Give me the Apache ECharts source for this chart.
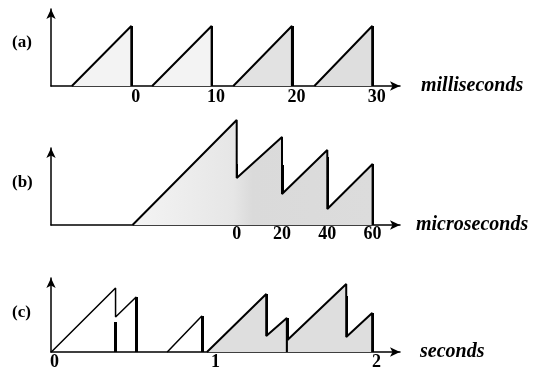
<!DOCTYPE html>
<html>
<head>
<meta charset="utf-8">
<script src="https://cdn.jsdelivr.net/npm/echarts@6/dist/echarts.min.js"></script>
<style>html,body{margin:0;padding:0;background:#fff}#c{width:533px;height:373px}</style>
</head>
<body>
<div id="c"></div>
<script>
// ---- Panel (a): milliseconds ----
const msTicks = [0, 10, 20, 30];
const msRampStarts = [-7.4, 2.6, 12.7, 22.8];
const msPeakTimes = [0, 10, 20, 30];
const msPeakHeights = [60, 60, 60, 60];
const msFills = ['#f3f3f3', '#f3f3f3', '#e2e2e2', '#dedede'];

// ---- Panel (b): microseconds ----
const usTicks = [0, 20, 40, 60];
const usRampStart = -46;
const usPeakTimes = [0, 20, 40, 60];
const usPeakHeights = [105, 88, 75, 61];
const usResetHeights = [47, 31, 16, 0];
const usBarTops = [61, 60, 68, 61];

// ---- Panel (c): seconds ----
const sTicks = [0, 1, 2];
const sTrain1 = [[-0.02, 0], [0.379, 64], [0.379, 35], [0.507, 55], [0.507, 0]];
const sTrain2 = [[0.70, 0], [0.915, 36], [0.915, 0]];
const sTrain3 = [[0.947, 0], [1.315, 58], [1.315, 16], [1.443, 34], [1.443, 0]];
const sTrain4 = [[1.447, 12], [1.812, 68], [1.812, 15], [1.973, 39], [1.973, 0]];
const sBars = [[0.379, 30], [0.507, 55], [0.915, 36], [1.315, 58], [1.443, 34], [1.812, 56], [1.973, 39]];

const chart = echarts.init(document.getElementById('c'), null, {renderer: 'canvas'});

const serif = 'Liberation Serif';
const axisLineBase = {
  show: true,
  onZero: false,
  lineStyle: {color: '#000', width: 1.5},
  symbol: ['none', 'arrow'],
  symbolSize: [7, 10]
};

function xAx(grid, min, max, ticks, name, margin, pad, gap) {
  return {
    type: 'value', gridIndex: grid, min: min, max: max,
    axisLine: axisLineBase,
    axisTick: {show: false},
    splitLine: {show: false},
    axisLabel: {
      customValues: ticks, margin: margin,
      fontFamily: serif, fontWeight: 'bold', fontSize: 18, color: '#000',
      padding: pad
    },
    name: name, nameLocation: 'end', nameGap: gap,
    nameTextStyle: {
      fontFamily: serif, fontStyle: 'italic', fontWeight: 'bold', fontSize: 20, color: '#000',
      verticalAlign: 'middle', align: 'left'
    }
  };
}
function yAx(grid, max) {
  return {
    type: 'value', gridIndex: grid, min: 0, max: max,
    axisLine: axisLineBase,
    axisTick: {show: false}, axisLabel: {show: false}, splitLine: {show: false}
  };
}
function ramp(idx, data, fill, width) {
  const s = {
    type: 'line', xAxisIndex: idx, yAxisIndex: idx, data: data,
    symbol: 'none', clip: false, animation: false, silent: true,
    lineStyle: {color: '#000', width: width}
  };
  if (fill) s.areaStyle = {color: fill, opacity: 1};
  return s;
}
function bars(idx, list, width) {
  return {
    type: 'lines', coordinateSystem: 'cartesian2d', xAxisIndex: idx, yAxisIndex: idx,
    clip: false, animation: false, silent: true,
    lineStyle: {color: '#000', width: width, opacity: 1},
    data: list.map(p => ({coords: [[p[0], 0], [p[0], p[1]]]}))
  };
}

const series = [];
// (a)
msPeakTimes.forEach((t, i) => {
  series.push(ramp(0, [[msRampStarts[i], 0], [t, msPeakHeights[i]], [t, 0]], msFills[i], 2));
});
series.push(bars(0, msPeakTimes.map((t, i) => [t, msPeakHeights[i]]), 3));
// (b)
const usLine = [[usRampStart, 0]];
usPeakTimes.forEach((t, i) => {
  usLine.push([t, usPeakHeights[i]]);
  usLine.push([t, usResetHeights[i]]);
});
series.push(ramp(1, usLine, {
  type: 'linear', x: 0, y: 0, x2: 1, y2: 0,
  colorStops: [{offset: 0, color: '#f4f4f4'}, {offset: 0.42, color: '#e6e6e6'}, {offset: 0.5, color: '#dadada'}, {offset: 1, color: '#dcdcdc'}]
}, 2));
series.push(bars(1, usPeakTimes.map((t, i) => [t, usBarTops[i]]), 3));
// (c)
series.push(ramp(2, sTrain1, null, 1.5));
series.push(ramp(2, sTrain2, null, 1.5));
series.push(ramp(2, sTrain3, '#dedede', 2));
series.push(ramp(2, sTrain4, '#dedede', 2));
series.push(bars(2, sBars, 3));

chart.setOption({
  backgroundColor: '#fff',
  animation: false,
  grid: [
    {left: 51, top: 9, width: 349, height: 77},
    {left: 51, top: 148, width: 349, height: 77},
    {left: 51, top: 278, width: 349, height: 74}
  ],
  xAxis: [
    xAx(0, -10, 33.46, msTicks, 'milliseconds', 2, [0, 0, 0, 9], 21),
    xAx(1, -82, 72.1, usTicks, 'microseconds', 0, [0, 0, 0, 0], 16),
    xAx(2, -0.022, 2.146, sTicks, 'seconds', 1, [0, 0, 0, 0], 20)
  ],
  yAxis: [yAx(0, 77), yAx(1, 77), yAx(2, 74)],
  graphic: [
    {type: 'text', left: 12, top: 34, style: {text: '(a)', font: 'bold 17px "Liberation Serif"', fill: '#000'}},
    {type: 'text', left: 12, top: 174, style: {text: '(b)', font: 'bold 17px "Liberation Serif"', fill: '#000'}},
    {type: 'text', left: 12, top: 304, style: {text: '(c)', font: 'bold 17px "Liberation Serif"', fill: '#000'}}
  ],
  series: series
});
</script>
</body>
</html>
